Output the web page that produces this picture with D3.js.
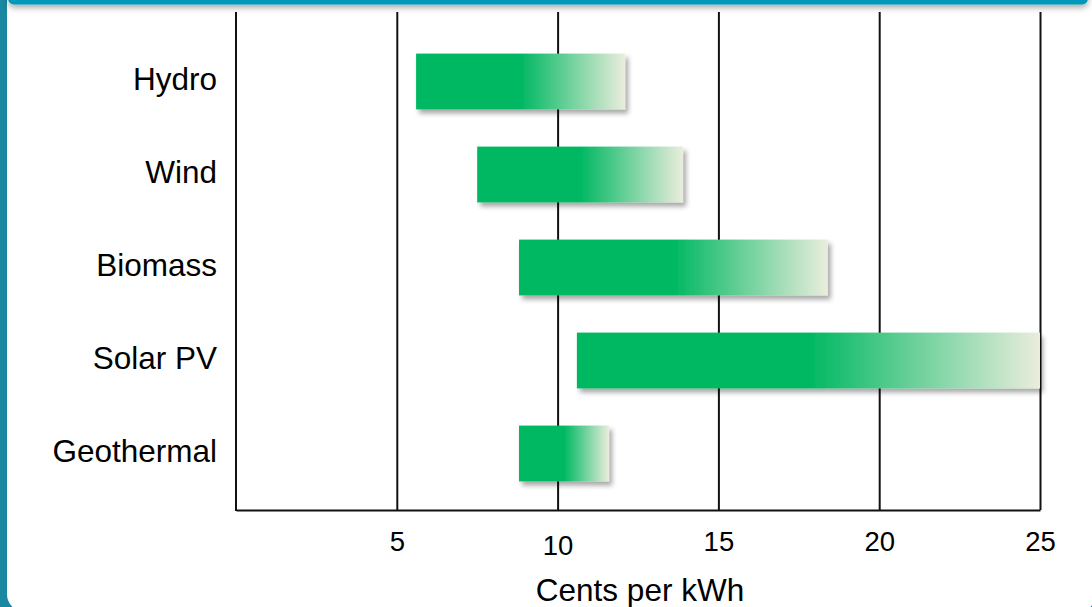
<!DOCTYPE html>
<html>
<head>
<meta charset="utf-8">
<script src="https://cdn.jsdelivr.net/npm/d3@7"></script>
<style>
  html, body { margin: 0; padding: 0; background: #1a88a0; overflow: hidden; }
  svg { display: block; font-family: "Liberation Sans", Arial, sans-serif; }
</style>
</head>
<body>
<div id="chart"></div>
<script>
// cost ranges, cents per kWh
const categories = ["Hydro", "Wind", "Biomass", "Solar PV", "Geothermal"];
const lowValues = [5.6, 7.5, 8.8, 10.6, 8.8];
const highValues = [12.1, 13.9, 18.4, 25, 11.6];
const tickValues = [5, 10, 15, 20, 25];
const axisTitle = "Cents per kWh";

const width = 1092, height = 607;
const plotTop = 12, plotBottom = 510;

const svg = d3.select("#chart")
    .append("svg")
    .attr("width", width)
    .attr("height", height);

const defs = svg.append("defs");

// bar gradient: solid green for the first half, then fades out
const grad = defs.append("linearGradient")
    .attr("id", "barGrad")
    .attr("x1", "0%").attr("x2", "100%")
    .attr("y1", "0%").attr("y2", "0%");
grad.append("stop").attr("offset", "0%").attr("stop-color", "#00b862");
grad.append("stop").attr("offset", "50%").attr("stop-color", "#00b862");
grad.append("stop").attr("offset", "100%").attr("stop-color", "#eaeddc");

const barShadow = defs.append("filter")
    .attr("id", "barShadow")
    .attr("x", "-10%").attr("y", "-20%")
    .attr("width", "130%").attr("height", "160%");
barShadow.append("feDropShadow")
    .attr("dx", 3).attr("dy", 4)
    .attr("stdDeviation", 2.5)
    .attr("flood-color", "#000")
    .attr("flood-opacity", 0.35);

const headShadow = defs.append("filter")
    .attr("id", "headShadow")
    .attr("x", "-5%").attr("y", "-50%")
    .attr("width", "110%").attr("height", "250%");
headShadow.append("feDropShadow")
    .attr("dx", 0).attr("dy", 3)
    .attr("stdDeviation", 3)
    .attr("flood-color", "#000")
    .attr("flood-opacity", 0.35);

// slide frame: white panel on teal, header strip on top
svg.append("rect")
    .attr("x", 7).attr("y", -30)
    .attr("width", 1089).attr("height", 642)
    .attr("rx", 18)
    .attr("fill", "#ffffff");

svg.append("rect")
    .attr("x", 8).attr("y", -20)
    .attr("width", 1080).attr("height", 24.5)
    .attr("rx", 6)
    .attr("fill", "#0299b9")
    .attr("filter", "url(#headShadow)");

const x = d3.scaleLinear()
    .domain([0, 25])
    .range([236, 1040]);

const y = d3.scaleBand()
    .domain(categories)
    .range([35, 500])
    .paddingInner(0.4)
    .paddingOuter(0.2);

// grid lines + baseline via bottom axis
const xAxis = svg.append("g")
    .attr("transform", `translate(0,${plotBottom})`)
    .call(d3.axisBottom(x)
        .tickValues(tickValues)
        .tickSize(-(plotBottom - plotTop))
        .tickSizeOuter(0)
        .tickPadding(21));

xAxis.select(".domain")
    .attr("stroke", "#111")
    .attr("stroke-width", 2);
xAxis.selectAll(".tick line")
    .attr("stroke", "#111")
    .attr("stroke-width", 2);
xAxis.selectAll(".tick text")
    .attr("fill", "#000")
    .style("font-size", "27.5px")
    .attr("dy", d => d === 10 ? "0.86em" : "0.71em");

// left vertical line at zero
svg.append("line")
    .attr("x1", x(0)).attr("x2", x(0))
    .attr("y1", plotTop).attr("y2", plotBottom + 1)
    .attr("stroke", "#111")
    .attr("stroke-width", 2);

// bars
svg.append("g")
    .selectAll("rect")
    .data(categories)
    .join("rect")
    .attr("x", (d, i) => x(lowValues[i]))
    .attr("y", d => y(d))
    .attr("width", (d, i) => x(highValues[i]) - x(lowValues[i]))
    .attr("height", y.bandwidth())
    .attr("fill", "url(#barGrad)")
    .attr("filter", "url(#barShadow)");

// category labels
svg.append("g")
    .selectAll("text")
    .data(categories)
    .join("text")
    .attr("x", 217)
    .attr("y", d => y(d) + y.bandwidth() / 2)
    .attr("dy", "0.28em")
    .attr("text-anchor", "end")
    .style("font-size", "31.5px")
    .attr("fill", "#000")
    .text(d => d);

// axis title
svg.append("text")
    .attr("x", (x.range()[0] + x.range()[1]) / 2 + 2)
    .attr("y", 601)
    .attr("text-anchor", "middle")
    .style("font-size", "31.5px")
    .attr("fill", "#000")
    .text(axisTitle);
</script>
</body>
</html>
